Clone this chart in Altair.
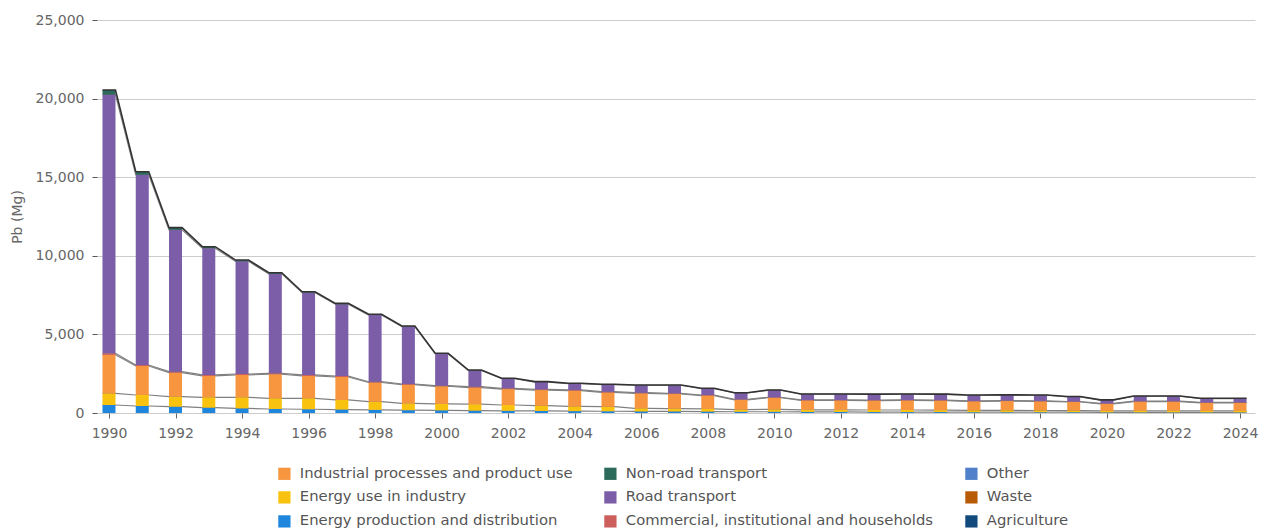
import altair as alt
import pandas as pd

years = list(range(1990, 2025))

# Emissions by sector (Mg of Pb)
energy_production = [510, 445, 400, 340, 295, 255, 240, 220, 200, 180,
                     170, 150, 140, 130, 120, 110, 100, 100, 90, 80,
                     80, 70, 70, 60, 60, 60, 50, 50, 50, 50,
                     40, 40, 40, 40, 40]
energy_industry = [740, 700, 640, 660, 705, 680, 695, 610, 520, 435,
                   410, 410, 370, 340, 300, 290, 200, 180, 170, 140,
                   150, 130, 130, 130, 130, 120, 120, 120, 110, 100,
                   90, 100, 100, 90, 90]
industrial_processes = [2450, 1845, 1530, 1360, 1420, 1530, 1425, 1460, 1220, 1185,
                        1120, 1060, 1010, 990, 1000, 910, 950, 930, 850, 620,
                        740, 600, 600, 600, 610, 610, 570, 590, 580, 550,
                        450, 580, 580, 510, 510]
commercial = [100, 60, 60, 60, 60, 60, 60, 60, 50, 45,
              40, 55, 50, 45, 45, 45, 40, 40, 35, 30,
              30, 30, 30, 30, 30, 30, 30, 30, 30, 30,
              30, 30, 30, 30, 30]
road_transport = [16450, 12100, 9020, 8060, 7170, 6325, 5230, 4570, 4240, 3645,
                  2030, 1025, 610, 465, 405, 455, 475, 515, 410, 405,
                  445, 365, 365, 365, 365, 365, 360, 350, 360, 300,
                  210, 315, 315, 250, 250]
non_road_transport = [300, 200, 140, 100, 80, 75, 65, 55, 50, 45,
                      30, 35, 30, 25, 20, 15, 15, 15, 15, 15,
                      15, 15, 15, 15, 15, 15, 15, 15, 15, 15,
                      15, 15, 15, 15, 15]

# stacking order, bottom to top
stack_names = ["Energy production and distribution", "Energy use in industry",
               "Industrial processes and product use",
               "Commercial, institutional and households", "Road transport",
               "Non-road transport"]
stack_values = [energy_production, energy_industry, industrial_processes,
                commercial, road_transport, non_road_transport]

# legend order (filled column by column)
legend_names = ["Industrial processes and product use", "Energy use in industry",
                "Energy production and distribution",
                "Non-road transport", "Road transport",
                "Commercial, institutional and households",
                "Other", "Waste", "Agriculture"]
legend_colors = ["#f7963f", "#f8c20f", "#1f86dd",
                 "#2c6a5c", "#7b5da8", "#cc5f5c",
                 "#4f80c9", "#b85b06", "#134a7c"]

tick_years = list(range(1990, 2025, 2))
y_ticks = [0, 5000, 10000, 15000, 20000, 25000]

rows = []
line_rows = []
half = 0.195
for i, y in enumerate(years):
    cum = 0
    for k, (name, vals) in enumerate(zip(stack_names, stack_values)):
        rows.append({"year": y, "category": name, "value": vals[i], "order": k})
        cum += vals[i]
        for dx in (-half, half):
            line_rows.append({"x": y + dx, "level": k, "cum": cum,
                              "top": k == len(stack_names) - 1})
df = pd.DataFrame(rows)
ldf = pd.DataFrame(line_rows)

FONT = "DejaVu Sans"
xscale = alt.Scale(domain=[1989.79, 2024.3], nice=False, zero=False)
yscale = alt.Scale(domain=[0, 25000], nice=False)

bars = alt.Chart(df).mark_bar(size=13).encode(
    x=alt.X("year:Q", scale=xscale,
            axis=alt.Axis(values=tick_years, format="d", title=None, grid=False,
                          domain=False, tickColor="#666", tickSize=5,
                          labelPadding=8, labelFont=FONT, labelFontSize=14,
                          labelColor="#666", labelFlush=False)),
    y=alt.Y("value:Q", stack="zero", scale=yscale,
            axis=alt.Axis(values=y_ticks, format=",.0f", title="Pb (Mg)",
                          domain=False, tickColor="#555", tickSize=5,
                          labelPadding=8, labelFont=FONT, labelFontSize=14,
                          labelColor="#666", titleFont=FONT, titleFontSize=14,
                          titleColor="#666", titleFontWeight="normal",
                          titlePadding=11, gridColor="#cccccc", gridWidth=1)),
    color=alt.Color("category:N",
                    scale=alt.Scale(domain=legend_names, range=legend_colors),
                    legend=alt.Legend(title=None, orient="none", legendX=180,
                                      legendY=446, columns=3, columnPadding=30,
                                      rowPadding=8, symbolType="square",
                                      symbolSize=150, symbolStrokeWidth=0,
                                      labelFont=FONT, labelFontSize=14.8,
                                      labelColor="#555", labelLimit=400,
                                      labelOffset=8)),
    order=alt.Order("order:Q"),
)

inner_lines = alt.Chart(ldf).transform_filter("!datum.top").mark_line(
    color="#808080", strokeWidth=1.2).encode(
    x=alt.X("x:Q", scale=xscale),
    y=alt.Y("cum:Q", scale=yscale),
    detail="level:N",
    order="x:Q",
)
top_line = alt.Chart(ldf).transform_filter("datum.top").mark_line(
    color="#333333", strokeWidth=1.6).encode(
    x=alt.X("x:Q", scale=xscale),
    y=alt.Y("cum:Q", scale=yscale),
    detail="level:N",
    order="x:Q",
)

chart = alt.layer(inner_lines, bars, top_line).properties(
    width=1158, height=393,
    autosize=alt.AutoSizeParams(type="none"),
    padding={"left": 89, "top": 12, "right": 14, "bottom": 118},
).configure_view(stroke=None)

chart.save("out.html", embed_options={"renderer": "svg", "actions": False})
